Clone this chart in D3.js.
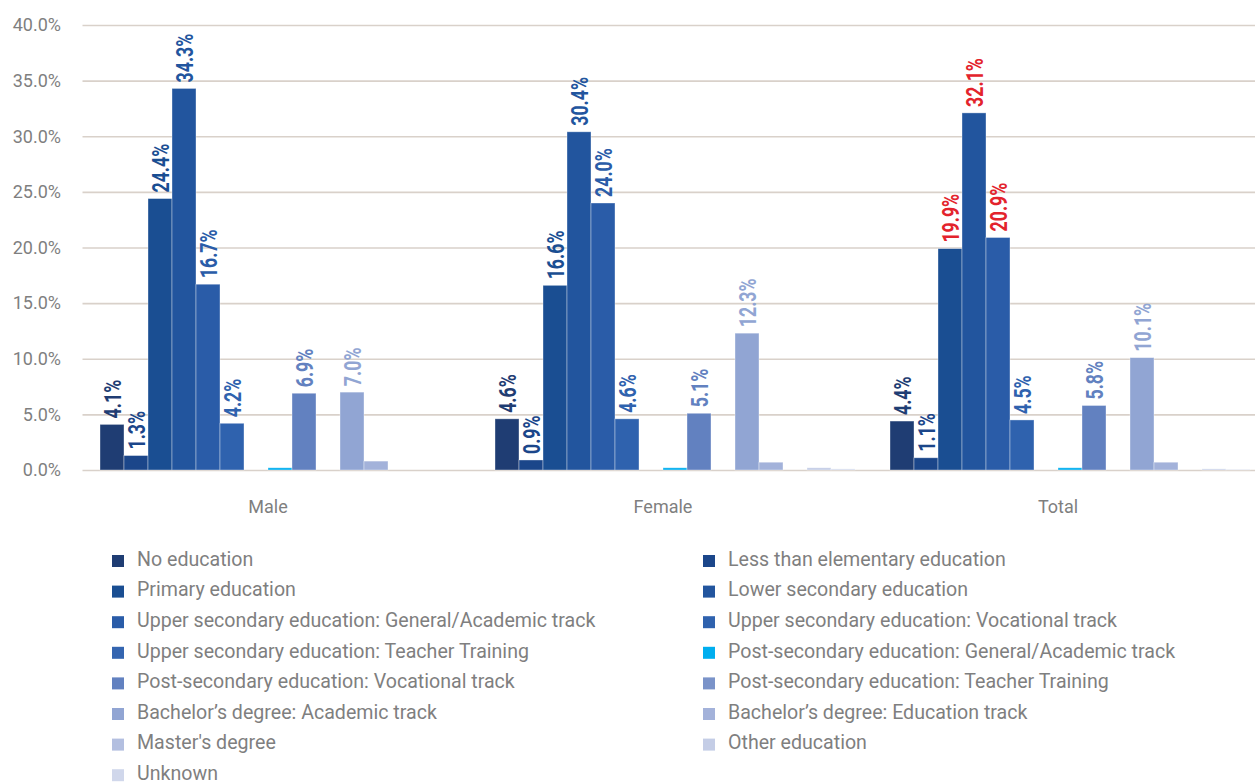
<!DOCTYPE html>
<html>
<head>
<meta charset="utf-8">
<script src="https://cdn.jsdelivr.net/npm/d3@7/dist/d3.min.js"></script>
<style>
  html, body { margin: 0; padding: 0; background: #ffffff; }
  svg { display: block; }
</style>
</head>
<body>
<svg id="chart" width="1255" height="782"></svg>
<script>
// Education level shares by sex (percent)
const groups = ["Male", "Female", "Total"];

const seriesNames = [
  "No education",
  "Less than elementary education",
  "Primary education",
  "Lower secondary education",
  "Upper secondary education: General/Academic track",
  "Upper secondary education: Vocational track",
  "Upper secondary education: Teacher Training",
  "Post-secondary education: General/Academic track",
  "Post-secondary education: Vocational track",
  "Post-secondary education: Teacher Training",
  "Bachelor\u2019s degree: Academic track",
  "Bachelor\u2019s degree: Education track",
  "Master's degree",
  "Other education",
  "Unknown"
];

const maleValues   = [4.1, 1.3, 24.4, 34.3, 16.7, 4.2, 0, 0.2, 6.9, 0, 7.0, 0.8, 0, 0, 0];
const femaleValues = [4.6, 0.9, 16.6, 30.4, 24.0, 4.6, 0, 0.2, 5.1, 0, 12.3, 0.7, 0, 0.2, 0.1];
const totalValues  = [4.4, 1.1, 19.9, 32.1, 20.9, 4.5, 0, 0.2, 5.8, 0, 10.1, 0.7, 0, 0.1, 0.05];

const yTicks = [0, 5, 10, 15, 20, 25, 30, 35, 40];

// series that carry a value label
const labelledSeries = [0, 1, 2, 3, 4, 5, 8, 10];
// labels emphasised in red (Total group)
const highlighted = { Total: [2, 3, 4] };

const seriesColors = [
  "#1f3d73", "#1b468a", "#1a4e92", "#22559e", "#2a5ca8",
  "#2f62ae", "#3465b0", "#00aeef", "#6281c0", "#7a93c9",
  "#91a5d3", "#a3b2da", "#b3bfe0", "#c4cde6", "#d0d7eb"
];

const valuesByGroup = { Male: maleValues, Female: femaleValues, Total: totalValues };

const svg = d3.select("#chart");

const plot = { left: 82.5, top: 25, bottom: 470, right: 1267.5 };

const y = d3.scaleLinear().domain([0, 40]).range([plot.bottom, plot.top]);

const x0 = d3.scaleBand()
  .domain(groups)
  .range([plot.left, plot.right])
  .paddingInner(35 / 395)
  .paddingOuter(35 / 395 / 2);

const x1 = d3.scaleBand()
  .domain(d3.range(seriesNames.length))
  .range([0, x0.bandwidth()]);

const gridColor = "#d9d1ca";
const textGrey = "#7f7f7f";
const sansFont = "Roboto, 'Liberation Sans', sans-serif";

// horizontal gridlines + y tick labels
const yAxis = d3.axisLeft(y)
  .tickValues(yTicks)
  .tickSize(-(plot.right - plot.left))
  .tickPadding(20)
  .tickFormat(d => d.toFixed(1) + "%");

const yg = svg.append("g")
  .attr("transform", `translate(${plot.left},0)`)
  .call(yAxis);
yg.select(".domain").remove();
yg.selectAll(".tick line")
  .attr("stroke", gridColor)
  .attr("stroke-width", 1.6);
yg.selectAll(".tick text")
  .attr("fill", textGrey)
  .attr("font-family", sansFont)
  .attr("font-size", 18)
  .attr("x", 61 - plot.left);

// bars
const groupSel = svg.selectAll("g.group")
  .data(groups)
  .join("g")
  .attr("class", "group")
  .attr("transform", g => `translate(${x0(g)},0)`);

groupSel.selectAll("rect")
  .data(g => valuesByGroup[g].map((v, i) => ({ g, i, v })))
  .join("rect")
  .attr("x", d => x1(d.i))
  .attr("width", x1.bandwidth())
  .attr("y", d => y(d.v))
  .attr("height", d => y(0) - y(d.v))
  .attr("fill", d => seriesColors[d.i])
  .attr("stroke", "rgba(255,255,255,0.45)")
  .attr("stroke-width", d => d.v > 0 ? 0.8 : 0);

// value labels, rotated and condensed, above bars
groupSel.selectAll("text.val")
  .data(g => valuesByGroup[g]
    .map((v, i) => ({ g, i, v }))
    .filter(d => labelledSeries.includes(d.i)))
  .join("text")
  .attr("class", "val")
  .attr("transform", d => `translate(${x1(d.i) + x1.bandwidth() / 2},${y(d.v) - 6}) rotate(-90) scale(0.74,1)`)
  .attr("text-anchor", "start")
  .attr("dy", "0.36em")
  .attr("font-family", sansFont)
  .attr("font-weight", "bold")
  .attr("font-size", 24)
  .attr("fill", d => (highlighted[d.g] || []).includes(d.i) ? "#e3232c" : seriesColors[d.i])
  .text(d => d.v.toFixed(1) + "%");

// category labels
svg.selectAll("text.cat")
  .data(groups)
  .join("text")
  .attr("class", "cat")
  .attr("x", g => x0(g) + x0.bandwidth() / 2 - 12)
  .attr("y", 507)
  .attr("dy", "0.35em")
  .attr("text-anchor", "middle")
  .attr("font-family", sansFont)
  .attr("font-size", 18)
  .attr("fill", textGrey)
  .text(g => g);

// legend, two columns
const legend = svg.append("g");
const legendCols = [112, 703];
const legendTop = 560;
const legendRow = 30.6;

const items = legend.selectAll("g.item")
  .data(seriesNames.map((name, i) => ({ name, i })))
  .join("g")
  .attr("class", "item")
  .attr("transform", d => `translate(${legendCols[d.i % 2]},${legendTop + Math.floor(d.i / 2) * legendRow})`);

items.append("rect")
  .attr("x", 0)
  .attr("y", -5)
  .attr("width", 12)
  .attr("height", 12)
  .attr("fill", d => seriesColors[d.i]);

items.append("text")
  .attr("x", 25)
  .attr("y", -1)
  .attr("dy", "0.35em")
  .attr("font-family", sansFont)
  .attr("font-size", 19.6)
  .attr("fill", textGrey)
  .text(d => d.name);
</script>
</body>
</html>
